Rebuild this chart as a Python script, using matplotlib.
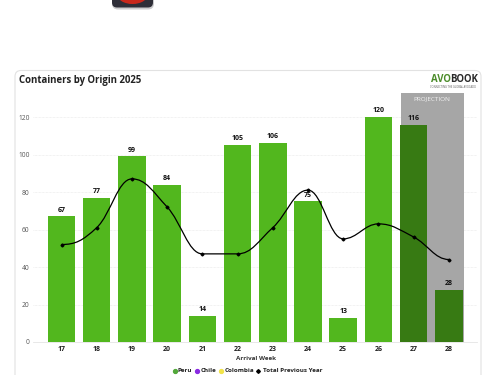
import matplotlib
matplotlib.use('Agg')
import matplotlib.pyplot as plt
import numpy as np
from matplotlib.patches import FancyBboxPatch, Ellipse, PathPatch
from matplotlib.path import Path

plt.rcParams['font.family'] = ['Open Sans', 'DejaVu Sans']

weeks = ['17', '18', '19', '20', '21', '22', '23', '24', '25', '26', '27', '28']
peru = [67, 77, 99, 84, 14, 105, 106, 75, 13, 120, 116, 28]
previous_year = [52, 61, 87, 72, 47, 47, 61, 81, 55, 63, 56, 44]
projected = ['27', '28']
yticks = [0, 20, 40, 60, 80, 100, 120]

GREEN = '#52b71e'
DARK_GREEN = '#377a13'
W, H = 500, 375

fig = plt.figure(figsize=(5, 3.75), dpi=100, facecolor='white')

# fondo en coordenadas de pixel
bg = fig.add_axes([0, 0, 1, 1])
bg.set_xlim(0, W)
bg.set_ylim(H, 0)
bg.axis('off')
bg.add_patch(FancyBboxPatch((15, 70.5), 466, 340, boxstyle='round,pad=0,rounding_size=6',
                            fc='white', ec='#e2e2e2', lw=0.8))
# icono de arriba, cortado por el borde
bg.add_patch(FancyBboxPatch((112, -14), 42, 23.5, boxstyle='round,pad=0,rounding_size=6',
                            fc='#b5b5b8', ec='none', alpha=0.7))
bg.add_patch(FancyBboxPatch((112, -16), 41, 23.5, boxstyle='round,pad=0,rounding_size=5',
                            fc='#2e2e38', ec='none'))
bg.add_patch(Ellipse((132.5, -5), 30, 18, fc='#c9281c', ec='none'))
bg.text(19, 80, 'Containers by Origin 2025', fontsize=6.9, fontweight='bold',
        color='#222222', va='center', ha='left')
bg.text(450.5, 79.5, 'AVO', fontsize=6.9, fontweight='bold', color='#4c8c2b', va='center', ha='right')
bg.text(450.5, 79.5, 'BOOK', fontsize=6.9, fontweight='bold', color='#2a2a2a', va='center', ha='left')
bg.text(453, 86.5, 'CONNECTING THE GLOBAL AVOCADO', fontsize=1.9, color='#555555', va='center', ha='center')

# grafico
ax = fig.add_axes([33 / W, 1 - 342 / H, (477 - 33) / W, (342 - 93) / H])
ax.patch.set_alpha(0)
x = np.arange(len(weeks))
colors = [DARK_GREEN if w in projected else GREEN for w in weeks]

ax.axvspan(9.636, 11.43, color='#a6a6a6', lw=0, zorder=1)
ax.bar(x, peru, width=0.78, color=colors, zorder=2)

for i, v in zip(x, peru):
    ax.text(i, v + 1.5, str(v), ha='center', va='bottom', fontsize=5,
            fontweight='bold', color='#111111', zorder=5)

# curva suave monotona: tangente plana en picos y valles
def slope(i):
    if i == 0 or i == len(x) - 1:
        return 0
    a, b, c = previous_year[i - 1], previous_year[i], previous_year[i + 1]
    if (b - a) * (c - b) <= 0:
        return 0
    return (c - a) / 2

verts = [(x[0], previous_year[0])]
codes = [Path.MOVETO]
for i in range(len(x) - 1):
    p1 = previous_year[i]
    p2 = previous_year[i + 1]
    verts += [(x[i] + 0.4, p1 + slope(i) * 0.4), (x[i + 1] - 0.4, p2 - slope(i + 1) * 0.4), (x[i + 1], p2)]
    codes += [Path.CURVE4, Path.CURVE4, Path.CURVE4]
ax.add_patch(PathPatch(Path(verts, codes), fc='none', ec='black', lw=0.9, zorder=3))
ax.plot(x, previous_year, ls='none', marker='D', ms=1.5, color='black', zorder=4)

ax.text(10.53, 129.5, 'PROJECTION', ha='center', va='center', fontsize=4.6, color='#f2f2f2', zorder=5)

ax.set_xlim(-0.81, 11.8)
ax.set_ylim(0, 249 / 1.875)
ax.set_xticks(x, weeks)
ax.set_yticks(yticks)
ax.tick_params(axis='both', length=0)
ax.tick_params(axis='x', labelsize=5, pad=3, labelcolor='#222222')
for lab in ax.get_xticklabels():
    lab.set_fontweight('bold')
ax.tick_params(axis='y', labelsize=4.8, pad=2.5, labelcolor='#555555')
ax.grid(axis='y', color='#e6e6e6', lw=0.5, ls=(0, (1, 1)), zorder=0)
ax.set_axisbelow(True)
for s in ['top', 'right', 'left']:
    ax.spines[s].set_visible(False)
ax.spines['bottom'].set_color('#e4e4e4')
ax.spines['bottom'].set_linewidth(0.6)

# leyenda a mano para copiar el espaciado
bg.text(255.5, 359, 'Arrival Week', fontsize=4.5, fontweight='bold', color='#333333', ha='center', va='center')
legend_items = [('Peru', '#52a83a', 'o', 174.5, 178), ('Chile', '#8a2be2', 'o', 197, 201),
                ('Colombia', '#f2e44a', 'o', 221, 225), ('Total Previous Year', 'black', 'D', 258, 263)]
for name, col, mk, mx, tx in legend_items:
    bg.plot([mx], [370.5], marker=mk, ms=2.8 if mk == 'o' else 1.9, color=col, ls='none')
    bg.text(tx, 370.5, name, fontsize=4.5, fontweight='bold', color='#222222', ha='left', va='center')

fig.savefig('out.png', dpi=100)
